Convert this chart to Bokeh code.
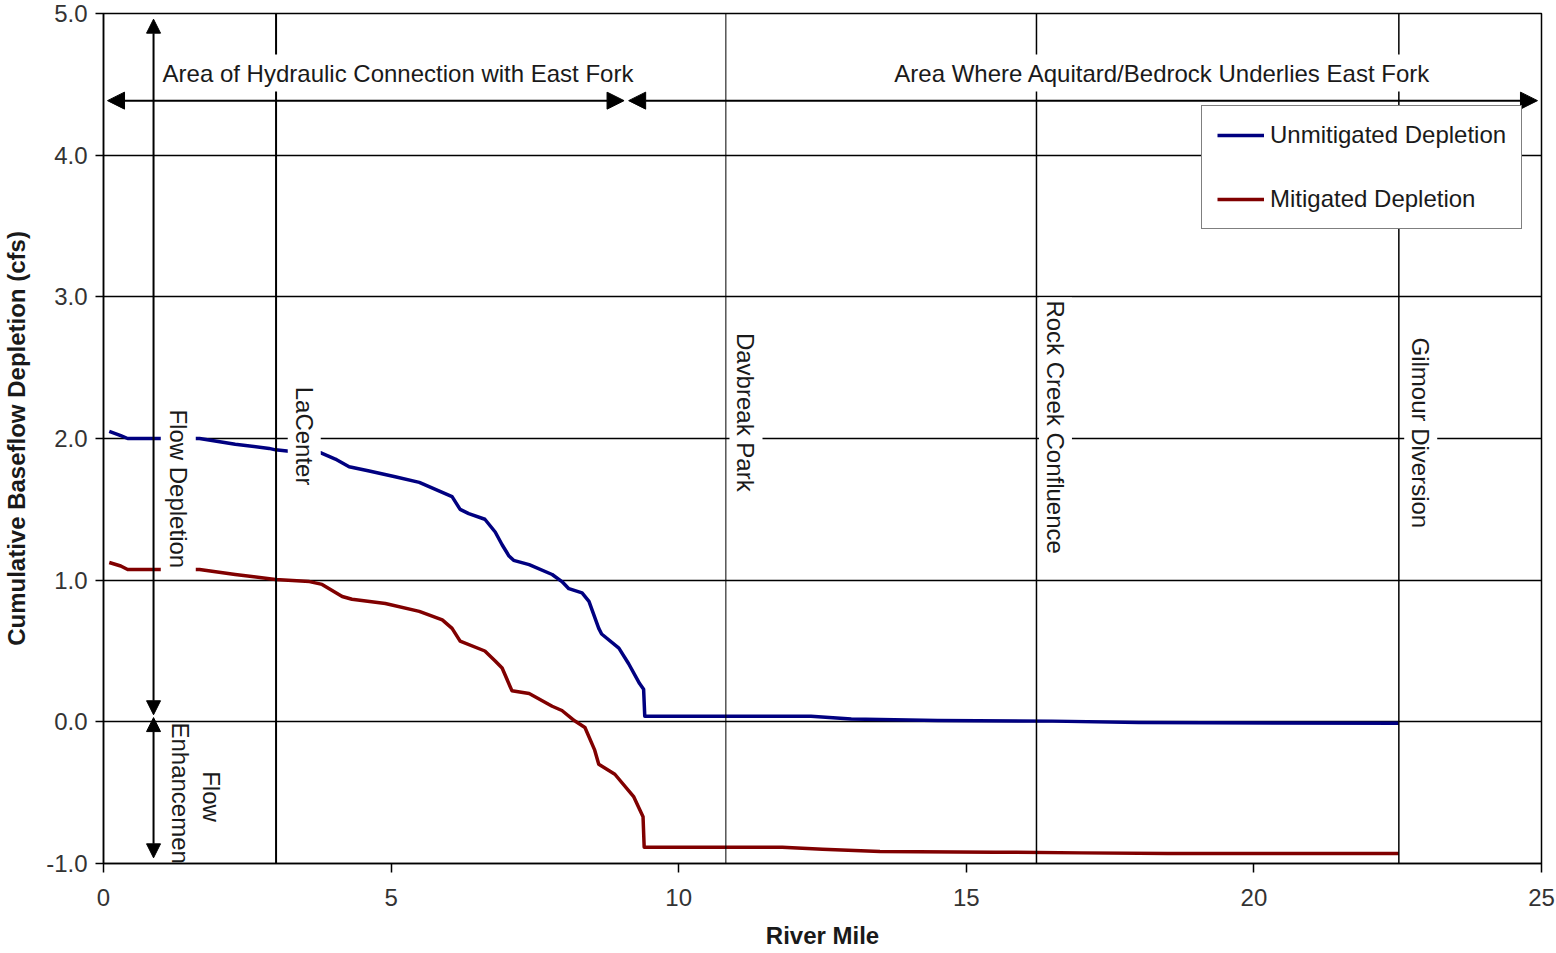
import math
from bokeh.plotting import figure
from bokeh.models import (Range1d, FixedTicker, PrintfTickFormatter, Span, Label,
                          Arrow, NormalHead, Legend, LegendItem)
from bokeh.embed import file_html
from bokeh.resources import INLINE

# ---------------- data ----------------
unmit_mile = [0.10, 0.30, 0.42, 0.99, 1.67, 2.29, 2.88, 2.99, 3.23, 3.77, 4.03, 4.27,
              4.62, 5.07, 5.49, 6.06, 6.20, 6.35, 6.63, 6.81, 6.93, 7.05, 7.13, 7.40,
              7.80, 7.97, 8.09, 8.32, 8.44, 8.61, 8.66, 8.96, 9.13, 9.32, 9.39, 9.41,
              12.3, 13.0, 14.5, 16.5, 18.0, 22.52]
unmit_cfs = [2.05, 2.02, 2.00, 2.00, 2.00, 1.96, 1.93, 1.92, 1.91, 1.90, 1.855, 1.80,
             1.77, 1.73, 1.69, 1.59, 1.50, 1.47, 1.43, 1.34, 1.25, 1.17, 1.14, 1.11,
             1.04, 0.99, 0.94, 0.91, 0.85, 0.66, 0.62, 0.52, 0.41, 0.27, 0.23, 0.04,
             0.04, 0.02, 0.01, 0.005, -0.005, -0.01]

mit_mile = [0.10, 0.30, 0.42, 0.99, 1.67, 2.29, 2.99, 3.58, 3.80, 4.15, 4.32, 4.90,
            5.49, 5.89, 6.06, 6.20, 6.63, 6.81, 6.93, 7.10, 7.40, 7.80, 7.97, 8.19,
            8.37, 8.54, 8.61, 8.89, 9.22, 9.38, 9.40, 11.8, 12.5, 13.5, 15.5, 17.0,
            18.5, 22.52]
mit_cfs = [1.125, 1.10, 1.075, 1.075, 1.075, 1.04, 1.005, 0.99, 0.97, 0.885, 0.865, 0.835,
           0.78, 0.72, 0.66, 0.57, 0.50, 0.43, 0.38, 0.22, 0.20, 0.11, 0.08, 0.007,
           -0.04, -0.20, -0.30, -0.37, -0.53, -0.67, -0.885, -0.885, -0.90, -0.915, -0.92, -0.925,
           -0.93, -0.93]

landmark_names = ["LaCenter", "Davbreak Park", "Rock Creek Confluence", "Gilmour Diversion"]
landmark_miles = [3.0, 10.82, 16.22, 22.52]
landmark_widths = [2.0, 1.0, 1.5, 1.5]

zone_names = ["Area of Hydraulic Connection with East Fork",
              "Area Where Aquitard/Bedrock Underlies East Fork"]
zone_start = [0.07, 9.13]
zone_end = [9.05, 24.93]

x_ticks = [0, 5, 10, 15, 20, 25]
y_ticks = [-1, 0, 1, 2, 3, 4, 5]

FONT = "Liberation Sans"
TXT = "#1a1a1a"
BLUE = "#000080"
RED = "#800000"

p = figure(width=1556, height=953, x_range=Range1d(0, 25), y_range=Range1d(-1, 5),
           output_backend="svg", toolbar_location=None,
           min_border_left=101, min_border_right=15, min_border_top=13, min_border_bottom=90)
p.background_fill_color = "white"
p.border_fill_color = "white"
p.outline_line_color = "black"
p.outline_line_width = 1.5

p.xgrid.visible = False
p.ygrid.grid_line_color = "black"
p.ygrid.grid_line_width = 1.5

for ax in (p.xaxis[0], p.yaxis[0]):
    ax.axis_line_color = "black"
    ax.axis_line_width = 1.5
    ax.major_tick_line_color = "black"
    ax.major_tick_line_width = 1.5
    ax.major_tick_in = 0
    ax.minor_tick_line_color = None
    ax.major_label_text_font = FONT
    ax.major_label_text_font_size = "24px"
    ax.major_label_text_color = "#333333"
    ax.axis_label_text_font = FONT
    ax.axis_label_text_font_size = "24px"
    ax.axis_label_text_font_style = "bold"
    ax.axis_label_text_color = TXT

p.xaxis.ticker = FixedTicker(ticks=x_ticks)
p.xaxis.formatter = PrintfTickFormatter(format="%d")
p.xaxis.major_tick_out = 9
p.xaxis.major_label_standoff = 16
p.xaxis.axis_label = "River Mile"
p.xaxis.axis_label_standoff = 13

p.yaxis.ticker = FixedTicker(ticks=y_ticks)
p.yaxis.formatter = PrintfTickFormatter(format="%.1f")
p.yaxis.major_tick_out = 8
p.yaxis.major_label_standoff = 8
p.yaxis.axis_label = "Cumulative Baseflow Depletion (cfs)"
p.yaxis.axis_label_standoff = 13

# curves
r_unmit = p.line(unmit_mile, unmit_cfs, line_color=BLUE, line_width=3.5, line_join="round")
r_mit = p.line(mit_mile, mit_cfs, line_color=RED, line_width=3.5, line_join="round")

# landmark vertical lines
for xm, lw in zip(landmark_miles, landmark_widths):
    p.add_layout(Span(location=xm, dimension="height", line_color="black", line_width=lw))

# zone arrows
for xs, xe in zip(zone_start, zone_end):
    p.add_layout(Arrow(start=NormalHead(size=17, fill_color="black", line_color="black"),
                       end=NormalHead(size=17, fill_color="black", line_color="black"),
                       x_start=xs, y_start=4.385, x_end=xe, y_end=4.385,
                       line_color="black", line_width=2))

# depletion / enhancement arrows
p.add_layout(Arrow(start=NormalHead(size=14, fill_color="black", line_color="black"),
                   end=NormalHead(size=14, fill_color="black", line_color="black"),
                   x_start=0.87, y_start=0.05, x_end=0.87, y_end=4.96,
                   line_color="black", line_width=2))
p.add_layout(Arrow(start=NormalHead(size=14, fill_color="black", line_color="black"),
                   end=NormalHead(size=14, fill_color="black", line_color="black"),
                   x_start=0.87, y_start=0.03, x_end=0.87, y_end=-0.96,
                   line_color="black", line_width=2))


def add_label(x, y, text, angle=0.0, bg=True, pad=4):
    kw = dict(x=x, y=y, text=text, angle=angle, angle_units="rad",
              text_font=FONT, text_font_size="24px", text_color=TXT,
              text_align="center", text_baseline="middle")
    if bg:
        kw.update(background_fill_color="white", background_fill_alpha=1.0, padding=pad)
    p.add_layout(Label(**kw))


# zone titles
add_label(5.12, 4.58, zone_names[0], pad=5)
add_label(18.41, 4.58, zone_names[1], pad=5)

# landmark labels
lab_pos = [(3.49, 2.017), (11.17, 2.185), (16.55, 2.08), (22.90, 2.04)]
for (lx, ly), name in zip(lab_pos, landmark_names):
    add_label(lx, ly, name, angle=-math.pi / 2, pad=3)

add_label(1.30, 1.645, "Flow Depletion", angle=-math.pi / 2, pad=4)
p.add_layout(Label(x=1.61, y=-0.527, text="Flow\nEnhancement", angle=-math.pi / 2,
                   angle_units="rad", text_font=FONT, text_font_size="24px",
                   text_color=TXT, text_align="center", text_baseline="middle",
                   text_line_height=1.12))

legend = Legend(items=[LegendItem(label="Unmitigated Depletion", renderers=[r_unmit]),
                       LegendItem(label="Mitigated Depletion", renderers=[r_mit])],
                location=(1098, 634), margin=0, padding=15, spacing=36,
                glyph_width=47, glyph_height=28, label_height=28, label_standoff=6,
                label_text_font=FONT, label_text_font_size="24px", label_text_color=TXT,
                border_line_color="black", border_line_width=1.5,
                background_fill_color="white", background_fill_alpha=1.0)
p.add_layout(legend)

open("out.html", "w").write(file_html(p, INLINE))
